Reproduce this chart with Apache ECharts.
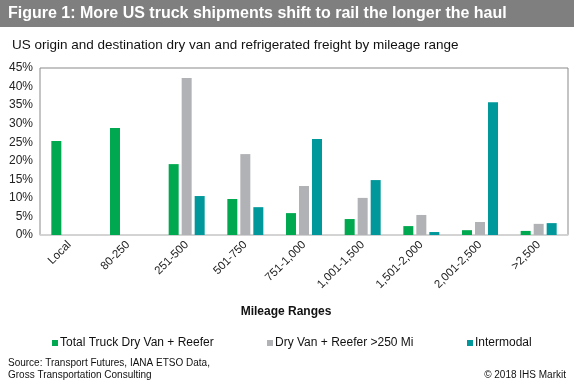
<!DOCTYPE html>
<html><head><meta charset="utf-8">
<script src="https://cdn.jsdelivr.net/npm/echarts@6/dist/echarts.min.js"></script>
<style>html,body{margin:0;padding:0;background:#fff}#c{width:574px;height:385px}</style>
</head><body><div id="c"></div>
<script>
const categories = ['Local','80-250','251-500','501-750','751-1,000','1,001-1,500','1,501-2,000','2,001-2,500','>2,500'];
const totalTruck = [25.3, 28.8, 19.1, 9.7, 5.9, 4.3, 2.4, 1.3, 1.1];
const dryVan250 = [null, null, 42.3, 21.8, 13.2, 10.0, 5.4, 3.5, 3.0];
const intermodal = [null, null, 10.5, 7.5, 25.9, 14.8, 0.8, 35.8, 3.2];
const seriesNames = ['Total Truck Dry Van + Reefer','Dry Van + Reefer >250 Mi','Intermodal'];
const colors = ['#00a94f','#b1b2b5','#00989a'];
const F = '"Liberation Sans", Arial, sans-serif';
const chart = echarts.init(document.getElementById('c'));
const legendBase = {top:332,itemWidth:6,itemHeight:6,icon:'rect',
  textStyle:{fontSize:12,color:'#111',fontFamily:F,padding:[0,0,0,-3]}};
chart.setOption({
  animation:false,
  textStyle:{fontFamily:F},
  graphic:[
    {type:'rect',shape:{x:0,y:0,width:574,height:27},style:{fill:'#7f7f7f'}},
    {type:'text',x:8,y:14,style:{text:'Figure 1: More US truck shipments shift to rail the longer the haul',fill:'#fff',font:'bold 16px '+F,textVerticalAlign:'middle'}},
    {type:'text',x:12,y:45,style:{text:'US origin and destination dry van and refrigerated freight by mileage range',fill:'#111',font:'13.5px '+F,textVerticalAlign:'middle'}},
    {type:'text',x:286,y:312,style:{text:'Mileage Ranges',fill:'#111',font:'bold 12px '+F,textAlign:'center',textVerticalAlign:'middle'}},
    {type:'text',x:8,y:363,style:{text:'Source: Transport Futures, IANA ETSO Data,',fill:'#111',font:'10px '+F,textVerticalAlign:'middle'}},
    {type:'text',x:8,y:375,style:{text:'Gross Transportation Consulting',fill:'#111',font:'10px '+F,textVerticalAlign:'middle'}},
    {type:'text',x:566,y:375,style:{text:'\u00a9 2018 IHS Markit',fill:'#111',font:'10px '+F,textAlign:'right',textVerticalAlign:'middle'}}
  ],
  legend:[
    Object.assign({left:47,data:[seriesNames[0]]},legendBase),
    Object.assign({left:262,data:[seriesNames[1]]},legendBase),
    Object.assign({left:462,data:[seriesNames[2]]},legendBase)
  ],
  grid:{left:40,right:6,top:68,bottom:150,show:true,borderColor:'#898989',borderWidth:1},
  xAxis:{
    type:'category',data:categories,
    axisLine:{lineStyle:{color:'#d9d9d9',width:1.5}},
    axisTick:{show:false},
    axisLabel:{rotate:45,fontSize:11.5,color:'#222',margin:8,interval:0}
  },
  yAxis:{
    type:'value',min:0,max:45,interval:5,
    axisLabel:{formatter:'{value}%',fontSize:12,color:'#222',margin:7},
    splitLine:{show:false},axisLine:{show:false},axisTick:{show:false}
  },
  series:[
    {name:seriesNames[0],type:'bar',data:totalTruck,itemStyle:{color:colors[0]},barWidth:10,barGap:'30%'},
    {name:seriesNames[1],type:'bar',data:dryVan250,itemStyle:{color:colors[1]},barWidth:10,barGap:'30%'},
    {name:seriesNames[2],type:'bar',data:intermodal,itemStyle:{color:colors[2]},barWidth:10,barGap:'30%'}
  ]
});
</script></body></html>
